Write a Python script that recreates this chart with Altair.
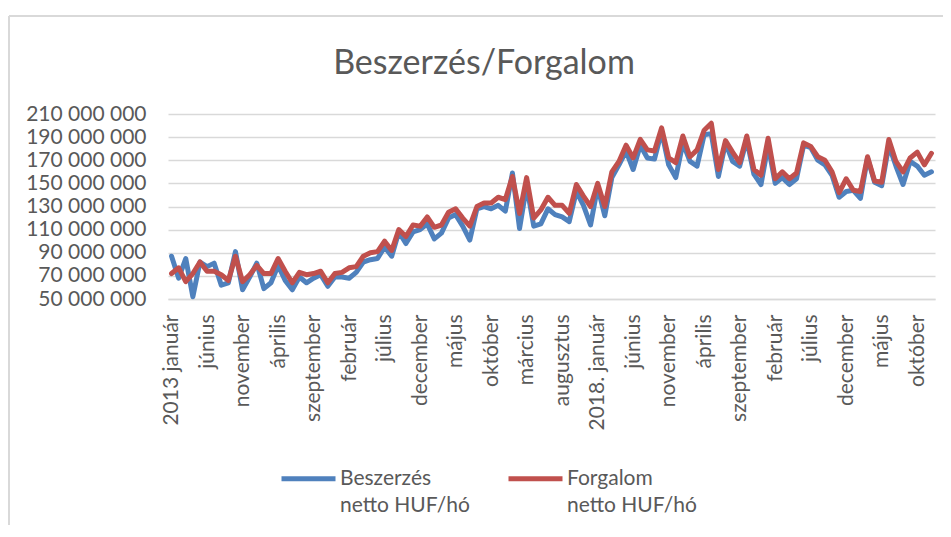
import json
import altair as alt
import pandas as pd

TITLE = "Beszerzés/Forgalom"
MONTHS = ["január", "február", "március", "április", "május", "június",
          "július", "augusztus", "szeptember", "október", "november", "december"]
YEARS = list(range(2013, 2022))
SERIES = ["Beszerzés netto HUF/hó", "Forgalom netto HUF/hó"]
COLORS = ["#4F81BD", "#C0504D"]
Y_TICKS = [50e6, 70e6, 90e6, 110e6, 130e6, 150e6, 170e6, 190e6, 210e6]

# monthly values, million HUF (Jan 2013 .. Dec 2021)
beszerzes = [87, 68, 85, 52, 82, 78, 81, 62, 64, 91, 58, 69,
             81, 59, 64, 79, 66, 58, 69, 64, 68, 71, 61, 69,
             69, 68, 73, 82, 84, 85, 95, 87, 108, 98, 108, 110,
             115, 102, 107, 120, 123, 113, 101, 128, 130, 128, 131, 126,
             159, 111, 148, 113, 115, 128, 123, 121, 117, 143, 131, 114,
             147, 122, 155, 166, 178, 162, 183, 172, 171, 195, 166, 155,
             185, 169, 165, 192, 193, 156, 185, 169, 165, 188, 158, 149,
             183, 150, 155, 149, 154, 183, 181, 170, 166, 157, 138, 143,
             144, 137, 172, 151, 148, 183, 165, 149, 169, 165, 157, 160]
forgalom = [72, 77, 65, 72, 82, 74, 74, 71, 66, 87, 65, 71,
            79, 72, 72, 85, 74, 64, 73, 71, 72, 74, 64, 72,
            73, 77, 78, 87, 90, 91, 100, 92, 110, 104, 114, 113,
            121, 112, 114, 125, 128, 120, 113, 130, 133, 133, 138, 136,
            156, 124, 155, 120, 127, 138, 131, 131, 124, 149, 139, 130,
            150, 130, 160, 169, 183, 172, 188, 179, 178, 198, 172, 168,
            191, 173, 179, 196, 202, 162, 187, 177, 168, 191, 162, 157,
            189, 154, 160, 154, 159, 185, 182, 173, 170, 160, 142, 154,
            144, 143, 173, 152, 151, 188, 169, 160, 172, 177, 166, 176]

labels = []
for y in YEARS:
    for m, name in enumerate(MONTHS):
        if m == 0:
            labels.append(f"{y} január" if y == 2013 else f"{y}. január")
        else:
            labels.append(name)

rows = []
for i, (b, f) in enumerate(zip(beszerzes, forgalom)):
    rows.append({"idx": i, "series": SERIES[0], "value": b * 1_000_000})
    rows.append({"idx": i, "series": SERIES[1], "value": f * 1_000_000})
df = pd.DataFrame(rows)

FONT = "Lato"
TXT = "#595959"
GRID = "#D9D9D9"
label_expr = json.dumps(labels, ensure_ascii=False) + "[datum.value]"

lines = alt.Chart(df).mark_line(strokeWidth=5, strokeCap="round", strokeJoin="round").encode(
    x=alt.X("idx:O", axis=alt.Axis(values=list(range(0, len(labels), 5)), labelExpr=label_expr,
                                    labelAngle=270, title=None, ticks=False, grid=False,
                                    domainColor=GRID, domainWidth=1.5, labelPadding=15,
                                    labelFont=FONT, labelFontSize=21, labelColor=TXT, labelLimit=0)),
    y=alt.Y("value:Q", scale=alt.Scale(domain=[50e6, 210e6], nice=False, zero=False),
            axis=alt.Axis(values=Y_TICKS, labelExpr="format(datum.value/1000000,'d') + ' 000 000'",
                          title=None, ticks=False, domain=False, gridColor=GRID, gridWidth=1.5,
                          labelPadding=22, labelFont=FONT, labelFontSize=21, labelColor=TXT)),
    color=alt.Color("series:N", scale=alt.Scale(domain=SERIES, range=COLORS),
                    legend=alt.Legend(title=None, orient="none", legendX=111, legendY=335,
                                      direction="horizontal", symbolType="stroke", symbolSize=2916,
                                      symbolStrokeWidth=5, columnPadding=28, labelOffset=2,
                                      labelLimit=0, labelFont=FONT, labelFontSize=21, labelColor=TXT,
                                      labelBaseline="middle",
                                      labelExpr="[slice(datum.label,0,indexof(datum.label,' ')), slice(datum.label,indexof(datum.label,' ')+1)]")),
)

frame_df = pd.DataFrame({"k": [0]})
left_edge = alt.Chart(frame_df).mark_rule(stroke=GRID, strokeWidth=2).encode(
    x=alt.value(-159), y=alt.value(-98), y2=alt.value(420))
top_edge = alt.Chart(frame_df).mark_rule(stroke=GRID, strokeWidth=2).encode(
    x=alt.value(-159), x2=alt.value(775), y=alt.value(-98))

title = alt.Chart(pd.DataFrame({"t": [TITLE]})).mark_text(
    font=FONT, fontSize=34, color=TXT, align="center", baseline="alphabetic").encode(
    text="t:N", x=alt.value(316), y=alt.value(-40))

chart = alt.layer(left_edge, top_edge, lines, title).properties(
    width=767, height=185,
    padding={"left": 160, "top": 106, "right": 8, "bottom": 226},
    autosize=alt.AutoSizeParams(type="none"),
).configure(style={"guide-label": {"lineHeight": 27}}).configure_view(stroke=None)

chart.save("out.html", embed_options={"renderer": "svg", "actions": False})
